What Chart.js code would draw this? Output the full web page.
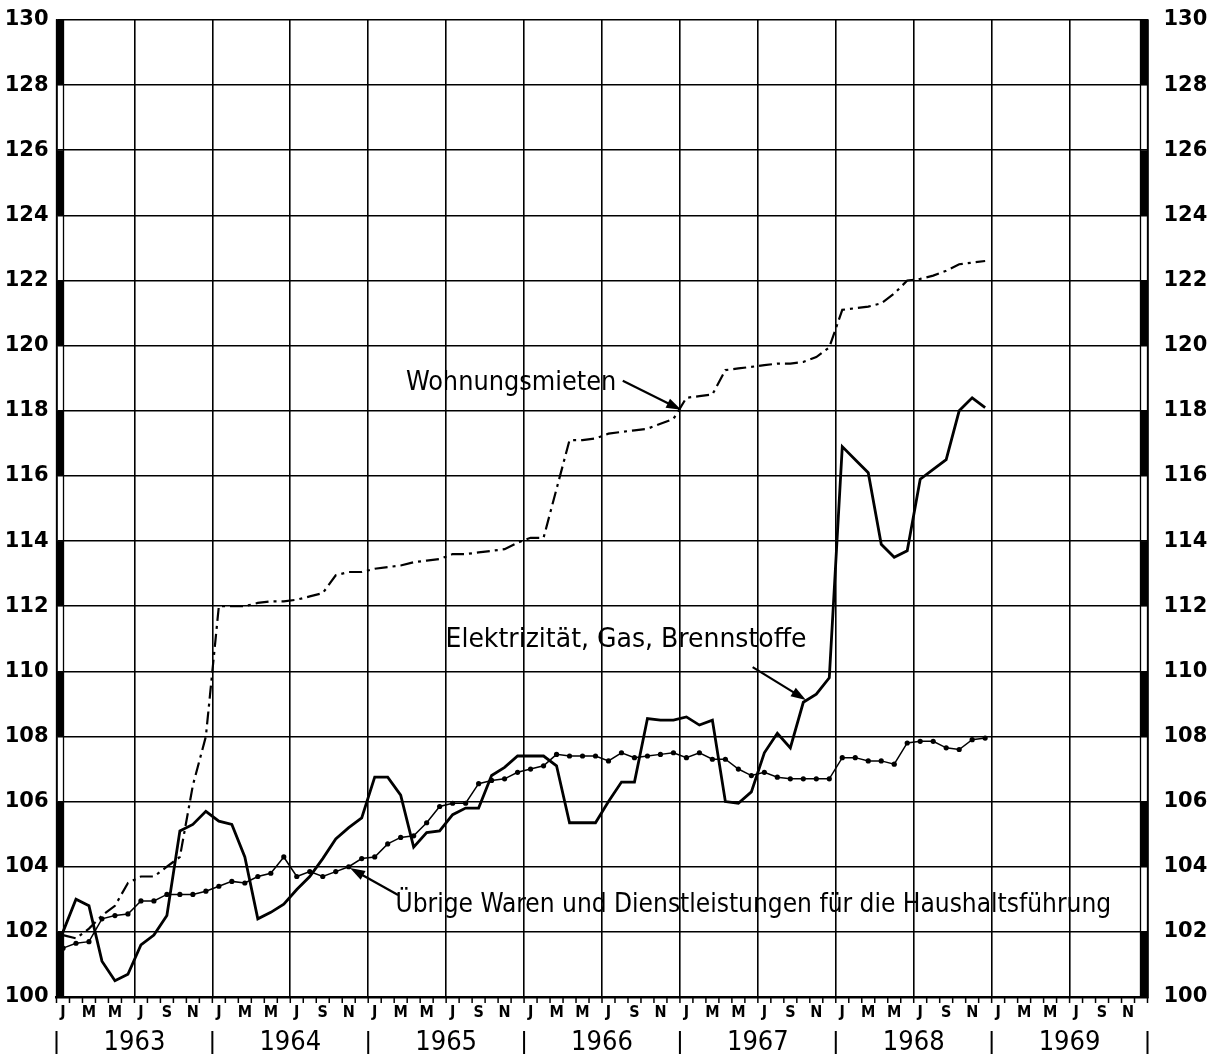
<!DOCTYPE html>
<html>
<head>
<meta charset="utf-8">
<script src="https://cdn.jsdelivr.net/npm/chart.js@4.4.1/dist/chart.umd.min.js"></script>
<style>
  html, body { margin: 0; padding: 0; background: #fff; }
  canvas { display: block; }
</style>
</head>
<body>
<canvas id="chart" width="1214" height="1058"></canvas>
<script>
// Index values by month, Jan 1963 - Dec 1968
const years = [1963, 1964, 1965, 1966, 1967, 1968, 1969];
const monthLetters = ['J', 'M', 'M', 'J', 'S', 'N'];
const yTickValues = [100, 102, 104, 106, 108, 110, 112, 114, 116, 118, 120, 122, 124, 126, 128, 130];

const mieten = [
    101.9, 101.8, 102.1, 102.5, 102.8, 103.5, 103.7, 103.7, 104.0, 104.3, 106.5, 108.0,
    112.0, 112.0, 112.0, 112.1, 112.15, 112.15, 112.2, 112.3, 112.4, 112.95, 113.05, 113.05,
    113.15, 113.2, 113.25, 113.35, 113.4, 113.45, 113.6, 113.6, 113.65, 113.7, 113.75, 113.95,
    114.1, 114.1, 115.6, 117.1, 117.1, 117.15, 117.3, 117.35, 117.4, 117.45, 117.6, 117.75,
    118.4, 118.45, 118.5, 119.25, 119.3, 119.35, 119.4, 119.45, 119.45, 119.5, 119.65, 119.95,
    121.1, 121.15, 121.2, 121.3, 121.6, 122.0, 122.05, 122.15, 122.3, 122.5, 122.55, 122.6
];

const energie = [
    102.0, 103.0, 102.8, 101.1, 100.5, 100.7, 101.6, 101.9, 102.5, 105.1, 105.3, 105.7,
    105.4, 105.3, 104.3, 102.4, 102.6, 102.85, 103.3, 103.7, 104.25, 104.85, 105.2, 105.5,
    106.75, 106.75, 106.2, 104.6, 105.05, 105.1, 105.6, 105.8, 105.8, 106.8, 107.05, 107.4,
    107.4, 107.4, 107.1, 105.35, 105.35, 105.35, 106.0, 106.6, 106.6, 108.55, 108.5, 108.5,
    108.6, 108.35, 108.5, 106.0, 105.95, 106.3, 107.5, 108.1, 107.65, 109.05, 109.3, 109.8,
    116.9, 116.5, 116.1, 113.9, 113.5, 113.7, 115.9, 116.2, 116.5, 118.0, 118.4, 118.1
];

const uebrige = [
    101.5, 101.65, 101.7, 102.4, 102.5, 102.55, 102.95, 102.95, 103.15, 103.15, 103.15, 103.25,
    103.4, 103.55, 103.5, 103.7, 103.8, 104.3, 103.7, 103.85, 103.7, 103.85, 104.0, 104.25,
    104.3, 104.7, 104.9, 104.95, 105.35, 105.85, 105.95, 105.95, 106.55, 106.65, 106.7, 106.9,
    107.0, 107.1, 107.45, 107.4, 107.4, 107.4, 107.25, 107.5, 107.35, 107.4, 107.45, 107.5,
    107.35, 107.5, 107.3, 107.3, 107.0, 106.8, 106.9, 106.75, 106.7, 106.7, 106.7, 106.7,
    107.35, 107.35, 107.25, 107.25, 107.15, 107.8, 107.85, 107.85, 107.65, 107.6, 107.9, 107.95
];

// Points sit in the middle of their month on a 0..84 month axis
const toPoints = arr => arr.map((v, i) => ({ x: i + 0.5, y: v }));

// Labels with arrows, in month / index units
const notes = [
    { text: 'Wohnungsmieten', x: 26.9, y: 118.85, w: 16.2, from: [43.6, 118.92], to: [48.1, 118.03] },
    { text: 'Elektrizität, Gas, Brennstoffe', x: 29.95, y: 110.96, w: 27.8, from: [53.6, 110.13], to: [57.7, 109.12] },
    { text: 'Übrige Waren und Dienstleistungen für die Haushaltsführung', x: 26.1, y: 102.83, w: 55.1, from: [26.3, 103.13], to: [22.6, 103.96] }
];

const FONT = '"DejaVu Sans Condensed", "DejaVu Sans", sans-serif';

function arrow(ctx, x1, y1, x2, y2) {
    const ang = Math.atan2(y2 - y1, x2 - x1);
    const len = 15, half = 5;
    ctx.beginPath();
    ctx.moveTo(x1, y1);
    ctx.lineTo(x2 - Math.cos(ang) * len * 0.8, y2 - Math.sin(ang) * len * 0.8);
    ctx.stroke();
    ctx.beginPath();
    ctx.moveTo(x2, y2);
    ctx.lineTo(x2 - Math.cos(ang) * len - Math.sin(ang) * half, y2 - Math.sin(ang) * len + Math.cos(ang) * half);
    ctx.lineTo(x2 - Math.cos(ang) * len + Math.sin(ang) * half, y2 - Math.sin(ang) * len - Math.cos(ang) * half);
    ctx.closePath();
    ctx.fill();
}

const decorations = {
    id: 'decorations',
    afterDraw(chart) {
        const { ctx, chartArea: a, scales: { x, y } } = chart;
        ctx.save();
        ctx.fillStyle = '#000';
        ctx.strokeStyle = '#000';

        // ruler bars on both sides: black every other 2-point band
        const barW = 7;
        [a.left, a.right - barW].forEach(bx => {
            for (let k = 0; k < yTickValues.length - 1; k++) {
                const top = y.getPixelForValue(130 - 2 * k);
                const bot = y.getPixelForValue(128 - 2 * k);
                if (k % 2 === 0) ctx.fillRect(bx, top, barW, bot - top);
            }
            ctx.lineWidth = 1.3;
            ctx.strokeRect(bx, a.top, barW, a.bottom - a.top);
        });

        // month ticks and letters
        ctx.lineWidth = 1.5;
        for (let m = 0; m <= years.length * 12; m++) {
            const px = x.getPixelForValue(m);
            ctx.beginPath();
            ctx.moveTo(px, a.bottom);
            ctx.lineTo(px, a.bottom + 6);
            ctx.stroke();
        }
        ctx.font = 'bold 16px ' + FONT;
        ctx.textAlign = 'center';
        ctx.textBaseline = 'middle';
        for (let m = 0; m < years.length * 12; m += 2) {
            ctx.fillText(monthLetters[(m % 12) / 2], x.getPixelForValue(m + 0.5), a.bottom + 16);
        }

        // years and separators
        ctx.font = '27px ' + FONT;
        years.forEach((yr, i) => {
            ctx.fillText(String(yr), x.getPixelForValue(i * 12 + 6), a.bottom + 46);
        });
        ctx.lineWidth = 2;
        for (let i = 0; i <= years.length; i++) {
            const px = x.getPixelForValue(i * 12);
            ctx.beginPath();
            ctx.moveTo(px, a.bottom + 34);
            ctx.lineTo(px, a.bottom + 57);
            ctx.stroke();
        }

        // annotations
        ctx.textAlign = 'left';
        ctx.font = '27px ' + FONT;
        notes.forEach(n => {
            const px = x.getPixelForValue(n.x);
            const py = y.getPixelForValue(n.y);
            const target = x.getPixelForValue(n.x + n.w) - px;
            const sx = target / ctx.measureText(n.text).width;
            ctx.save();
            ctx.translate(px, py);
            ctx.scale(sx, 1);
            ctx.fillText(n.text, 0, 0);
            ctx.restore();
            ctx.lineWidth = 2.2;
            arrow(ctx, x.getPixelForValue(n.from[0]), y.getPixelForValue(n.from[1]),
                x.getPixelForValue(n.to[0]), y.getPixelForValue(n.to[1]));
        });
        ctx.restore();
    }
};

const tickFont = { family: '"DejaVu Sans", sans-serif', size: 21, weight: 'bold' };
const setTicks = s => { s.ticks = yTickValues.map(v => ({ value: v })); };
// keep the plot top fixed: no extra room for the half-height of the top label
const noVPad = s => { s.paddingTop = 0; s.paddingBottom = 0; };

new Chart(document.getElementById('chart'), {
    type: 'line',
    data: {
        datasets: [
            {
                label: 'Wohnungsmieten',
                data: toPoints(mieten),
                borderColor: '#000',
                borderWidth: 2.2,
                borderDash: [13, 5, 3, 5],
                pointRadius: 0,
                tension: 0
            },
            {
                label: 'Elektrizität, Gas, Brennstoffe',
                data: toPoints(energie),
                borderColor: '#000',
                borderWidth: 2.8,
                pointRadius: 0,
                tension: 0
            },
            {
                label: 'Übrige Waren und Dienstleistungen für die Haushaltsführung',
                data: toPoints(uebrige),
                borderColor: '#000',
                borderWidth: 1.5,
                pointRadius: 2.6,
                pointBorderWidth: 0,
                pointBackgroundColor: '#000',
                tension: 0
            }
        ]
    },
    options: {
        responsive: false,
        animation: false,
        layout: { padding: { top: 20, left: 0, right: 0, bottom: 0 } },
        plugins: { legend: { display: false }, tooltip: { enabled: false } },
        scales: {
            x: {
                type: 'linear',
                min: 0,
                max: years.length * 12,
                ticks: { stepSize: 6, display: false },
                grid: { color: '#000', lineWidth: 1.6, drawTicks: false },
                border: { color: '#000', width: 2.5 },
                afterFit(s) { s.height = 61; s.paddingLeft = 0; s.paddingRight = 0; }
            },
            y: {
                min: 100,
                max: 130,
                afterBuildTicks: setTicks,
                ticks: { color: '#000', font: tickFont, padding: 8 },
                grid: { color: '#000', lineWidth: 1.6, drawTicks: false },
                border: { color: '#000', width: 1.5 },
                afterFit(s) { s.width = 56.5; noVPad(s); }
            },
            y2: {
                position: 'right',
                min: 100,
                max: 130,
                afterBuildTicks: setTicks,
                ticks: { color: '#000', font: tickFont, padding: 16 },
                grid: { display: false, drawTicks: false },
                border: { color: '#000', width: 1.5 },
                afterFit(s) { s.width = 66.5; noVPad(s); }
            }
        }
    },
    plugins: [decorations]
});
</script>
</body>
</html>
